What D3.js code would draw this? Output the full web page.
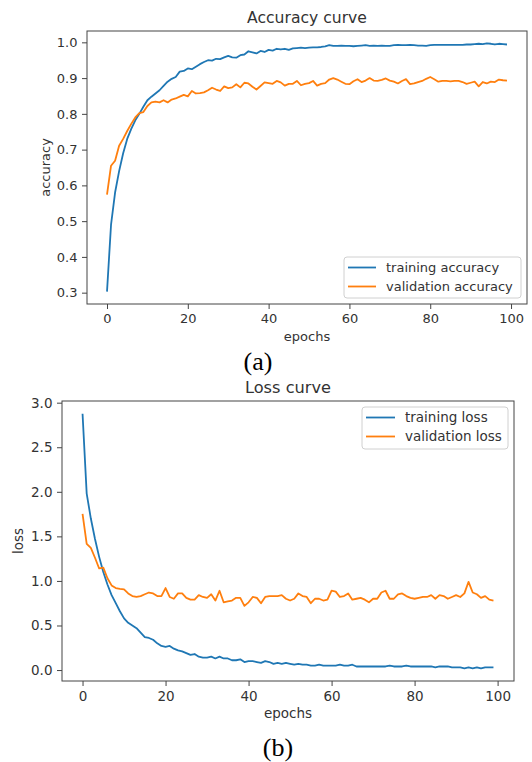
<!DOCTYPE html>
<html>
<head>
<meta charset="utf-8">
<script src="https://cdn.jsdelivr.net/npm/d3@7"></script>
<style>
  body { margin: 0; background: #fff; }
  svg text { font-family: "DejaVu Sans", sans-serif; fill: #333; }
  .caption { font-family: "Liberation Serif", "Times New Roman", serif; fill: #000; }
</style>
</head>
<body>
<div id="chart"></div>
<script>
// epochs 0..99
var epochs = d3.range(100);

var trainAcc = [0.303,0.490,0.580,0.640,0.690,0.730,0.758,0.782,0.800,0.820,
  0.838,0.848,0.857,0.866,0.878,0.890,0.898,0.903,0.918,0.920,
  0.927,0.925,0.932,0.939,0.945,0.950,0.949,0.954,0.953,0.958,
  0.962,0.958,0.957,0.964,0.966,0.975,0.972,0.969,0.976,0.973,
  0.979,0.977,0.982,0.980,0.982,0.979,0.983,0.984,0.985,0.984,
  0.985,0.986,0.986,0.987,0.989,0.992,0.990,0.990,0.991,0.990,
  0.990,0.989,0.990,0.991,0.992,0.990,0.991,0.990,0.991,0.990,
  0.990,0.992,0.993,0.992,0.992,0.993,0.992,0.991,0.991,0.990,
  0.992,0.993,0.993,0.993,0.993,0.993,0.993,0.993,0.993,0.994,
  0.994,0.995,0.996,0.995,0.997,0.996,0.994,0.996,0.995,0.994];

var valAcc = [0.574,0.655,0.669,0.711,0.730,0.752,0.772,0.790,0.802,0.805,
  0.822,0.832,0.834,0.832,0.838,0.832,0.840,0.843,0.848,0.853,
  0.849,0.864,0.857,0.858,0.860,0.866,0.873,0.868,0.864,0.877,
  0.872,0.874,0.883,0.874,0.887,0.885,0.876,0.868,0.878,0.888,
  0.886,0.884,0.892,0.888,0.879,0.884,0.884,0.892,0.880,0.884,
  0.886,0.892,0.879,0.884,0.886,0.896,0.900,0.896,0.890,0.884,
  0.883,0.891,0.897,0.889,0.893,0.900,0.893,0.892,0.895,0.899,
  0.893,0.890,0.885,0.892,0.897,0.883,0.885,0.889,0.892,0.898,
  0.903,0.897,0.890,0.892,0.892,0.891,0.892,0.892,0.889,0.884,
  0.887,0.890,0.877,0.889,0.885,0.890,0.889,0.896,0.894,0.893];

var trainLoss = [2.876,1.98,1.70,1.47,1.27,1.10,0.96,0.84,0.75,0.66,
  0.58,0.53,0.50,0.47,0.42,0.37,0.36,0.34,0.30,0.27,
  0.26,0.27,0.24,0.22,0.21,0.19,0.17,0.18,0.15,0.14,
  0.14,0.15,0.13,0.15,0.13,0.13,0.11,0.11,0.12,0.09,
  0.10,0.10,0.09,0.08,0.10,0.09,0.07,0.08,0.07,0.08,
  0.07,0.06,0.07,0.06,0.06,0.05,0.05,0.06,0.05,0.05,
  0.05,0.05,0.06,0.05,0.05,0.06,0.04,0.04,0.04,0.04,
  0.04,0.04,0.04,0.04,0.05,0.04,0.04,0.04,0.05,0.04,
  0.04,0.04,0.04,0.04,0.04,0.03,0.04,0.04,0.04,0.03,
  0.03,0.03,0.02,0.03,0.02,0.03,0.02,0.03,0.03,0.03];

var valLoss = [1.753,1.416,1.37,1.26,1.14,1.15,1.03,0.95,0.92,0.91,
  0.905,0.86,0.83,0.82,0.83,0.85,0.87,0.86,0.83,0.83,
  0.92,0.82,0.80,0.86,0.86,0.81,0.79,0.79,0.84,0.82,
  0.81,0.85,0.78,0.89,0.76,0.77,0.78,0.81,0.81,0.72,
  0.76,0.82,0.81,0.75,0.82,0.83,0.83,0.83,0.84,0.80,
  0.78,0.80,0.86,0.83,0.82,0.75,0.80,0.80,0.78,0.79,
  0.89,0.88,0.82,0.83,0.86,0.79,0.80,0.81,0.79,0.76,
  0.80,0.80,0.87,0.89,0.80,0.80,0.85,0.86,0.83,0.81,
  0.80,0.81,0.82,0.82,0.84,0.80,0.84,0.83,0.80,0.82,
  0.84,0.82,0.86,0.99,0.87,0.85,0.81,0.83,0.79,0.78];

var xTicks = [0, 20, 40, 60, 80, 100];
var accTicks = [0.3, 0.4, 0.5, 0.6, 0.7, 0.8, 0.9, 1.0];
var lossTicks = [0.0, 0.5, 1.0, 1.5, 2.0, 2.5, 3.0];

var blue = "#1f77b4", orange = "#ff7f0e";

var svg = d3.select("#chart").append("svg")
  .attr("width", 532)
  .attr("height", 762);

// matplotlib style: 5% padding on both axes
function padded(vals) {
  var ext = d3.extent(vals), m = (ext[1] - ext[0]) * 0.05;
  return [ext[0] - m, ext[1] + m];
}

function panel(o) {
  var g = svg.append("g");
  var x = d3.scaleLinear().domain(padded(epochs)).range([o.left, o.right]);
  var y = d3.scaleLinear().domain(padded(o.series[0].values.concat(o.series[1].values)))
    .range([o.bottom, o.top]);

  var xAxis = g.append("g")
    .attr("transform", "translate(0," + o.bottom + ")")
    .call(d3.axisBottom(x).tickValues(xTicks).tickSize(5).tickPadding(5).tickFormat(d3.format("d")));
  var yAxis = g.append("g")
    .attr("transform", "translate(" + o.left + ",0)")
    .call(d3.axisLeft(y).tickValues(o.yTicks).tickSize(5).tickPadding(4.5).tickFormat(d3.format(".1f")));
  [xAxis, yAxis].forEach(function(a) {
    a.select(".domain").remove();
    a.selectAll(".tick line").attr("stroke", "#444");
    a.selectAll(".tick text").style("font-size", o.fs + "px").attr("fill", "#333");
  });

  // lines
  var line = d3.line().x(function(d, i) { return x(epochs[i]); }).y(function(d) { return y(d); });
  o.series.forEach(function(s) {
    g.append("path")
      .datum(s.values)
      .attr("d", line)
      .attr("fill", "none")
      .attr("stroke", s.color)
      .attr("stroke-width", 1.8)
      .attr("stroke-linejoin", "round");
  });

  // frame
  g.append("rect")
    .attr("x", o.left).attr("y", o.top)
    .attr("width", o.right - o.left).attr("height", o.bottom - o.top)
    .attr("fill", "none").attr("stroke", "#444").attr("stroke-width", 1);

  g.append("text")
    .attr("x", (o.left + o.right) / 2).attr("y", o.top - 8)
    .attr("text-anchor", "middle")
    .style("font-size", o.fs * 1.2 + "px")
    .text(o.title);

  g.append("text")
    .attr("x", (o.left + o.right) / 2).attr("y", o.xlabelY)
    .attr("text-anchor", "middle")
    .style("font-size", o.fs + "px")
    .text("epochs");

  g.append("text")
    .attr("transform", "translate(" + o.ylabelX + "," + (o.top + o.bottom) / 2 + ") rotate(-90)")
    .attr("text-anchor", "middle")
    .attr("dy", "0.35em")
    .style("font-size", o.fs + "px")
    .text(o.ylabel);

  // legend
  var lg = o.legend;
  g.append("rect")
    .attr("x", lg.x).attr("y", lg.y).attr("width", lg.w).attr("height", lg.h)
    .attr("rx", 3).attr("fill", "#fff").attr("fill-opacity", 0.8)
    .attr("stroke", "#d0d0d0");
  o.series.forEach(function(s, i) {
    var ry = lg.y + 10.5 + i * 19;
    g.append("line")
      .attr("x1", lg.x + 4).attr("x2", lg.x + 4 + lg.len)
      .attr("y1", ry).attr("y2", ry)
      .attr("stroke", s.color).attr("stroke-width", 1.8);
    g.append("text")
      .attr("x", lg.x + 14 + lg.len).attr("y", ry)
      .attr("dy", "0.35em")
      .style("font-size", o.fs + "px")
      .text(s.name);
  });

  svg.append("text")
    .attr("class", "caption")
    .attr("x", o.capX).attr("y", o.capY)
    .attr("text-anchor", "middle")
    .style("font-size", "26px")
    .text(o.caption);
}

panel({
  left: 87, right: 527, top: 31, bottom: 304, fs: 13,
  title: "Accuracy curve", ylabel: "accuracy", xlabelY: 341, ylabelX: 45,
  yTicks: accTicks,
  series: [
    { name: "training accuracy", values: trainAcc, color: blue },
    { name: "validation accuracy", values: valAcc, color: orange }
  ],
  legend: { x: 344, y: 257, w: 177, h: 41, len: 28 },
  caption: "(a)", capX: 258, capY: 370
});

panel({
  left: 62, right: 514, top: 401, bottom: 681, fs: 13.5,
  title: "Loss curve", ylabel: "loss", xlabelY: 718, ylabelX: 18,
  yTicks: lossTicks,
  series: [
    { name: "training loss", values: trainLoss, color: blue },
    { name: "validation loss", values: valLoss, color: orange }
  ],
  legend: { x: 362, y: 407, w: 146, h: 42, len: 29 },
  caption: "(b)", capX: 278, capY: 756
});
</script>
</body>
</html>
